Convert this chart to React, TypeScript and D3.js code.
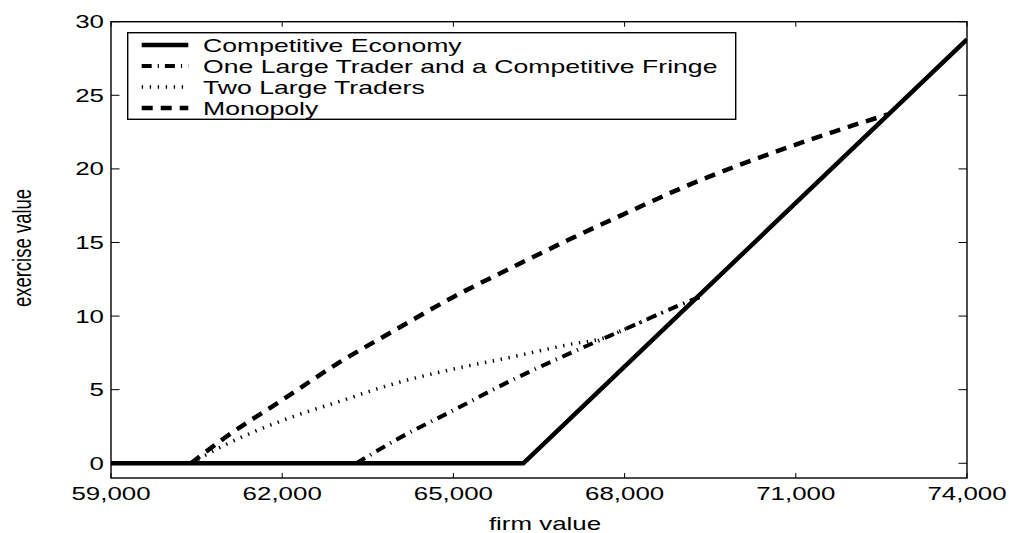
import React, { useEffect, useRef } from "react";
import * as d3 from "d3";

// axis ticks
const xTicks = [59000, 62000, 65000, 68000, 71000, 74000];
const yTicks = [0, 5, 10, 15, 20, 25, 30];

// Competitive Economy
const competitiveFirm = [59000, 66225, 74000];
const competitiveExercise = [0, 0, 28.8];

// One Large Trader and a Competitive Fringe
const oneLargeFirm = [63300, 64000, 65000, 66000, 67000, 68000, 69000, 69321];
const oneLargeExercise = [0, 1.6, 3.6, 5.6, 7.4, 9.1, 10.8, 11.3];

// Two Large Traders
const twoLargeFirm = [60400, 61000, 62000, 63000, 64000, 65000, 66000, 67000, 67700, 68000, 69000, 69321];
const twoLargeExercise = [0, 1.25, 2.9, 4.2, 5.45, 6.4, 7.2, 8.05, 8.6, 9.1, 10.8, 11.3];

// Monopoly
const monopolyFirm = [60400, 61000, 62000, 63000, 64000, 65000, 66000, 67000, 68000, 69000, 70000, 71000, 72000, 72610];
const monopolyExercise = [0, 1.75, 4.3, 6.85, 9.1, 11.3, 13.25, 15.15, 16.95, 18.7, 20.25, 21.65, 22.95, 23.7];

const seriesNames = [
  "Competitive Economy",
  "One Large Trader and a Competitive Fringe",
  "Two Large Traders",
  "Monopoly",
];

const App = () => {
  const svgRef = useRef(null);

  useEffect(() => {
    const svg = d3.select(svgRef.current);
    svg.selectAll("*").remove();

    const left = 111, right = 967, top = 21.7, bottom = 478;
    const font = "'Liberation Sans', Arial, Helvetica, sans-serif";
    const fs = 18.5;
    const stretch = 1.4; // the original figure is widened horizontally

    const x = d3.scaleLinear().domain([59000, 74000]).range([left, right]);
    const y = d3.scaleLinear().domain([-1, 30]).range([bottom, top]);

    const styles = [
      { width: 4.5, dash: null, color: "#000" },
      { width: 4, dash: "10 6 1.2 6", color: "#000" },
      { width: 3.5, dash: "1.4 6.6", color: "#000" },
      { width: 4.5, dash: "11 8", color: "#000" },
    ];

    const series = [
      { fx: competitiveFirm, fy: competitiveExercise, curve: d3.curveLinear },
      { fx: oneLargeFirm, fy: oneLargeExercise, curve: d3.curveMonotoneX },
      { fx: twoLargeFirm, fy: twoLargeExercise, curve: d3.curveMonotoneX },
      { fx: monopolyFirm, fy: monopolyExercise, curve: d3.curveMonotoneX },
    ];

    svg.append("rect").attr("width", 1009).attr("height", 533).attr("fill", "#fff");

    svg.append("defs").append("clipPath").attr("id", "plotClip")
      .append("rect").attr("x", left).attr("y", top)
      .attr("width", right - left).attr("height", bottom - top);

    // lines (competitive last so it sits on top)
    const g = svg.append("g").attr("clip-path", "url(#plotClip)");
    [3, 2, 1, 0].forEach((i) => {
      const s = series[i];
      const pts = s.fx.map((v, k) => [v, s.fy[k]]);
      const line = d3.line().x((d) => x(d[0])).y((d) => y(d[1])).curve(s.curve);
      g.append("path")
        .attr("d", line(pts))
        .attr("fill", "none")
        .attr("stroke", styles[i].color)
        .attr("stroke-width", styles[i].width)
        .attr("stroke-dasharray", styles[i].dash)
        .attr("stroke-linejoin", "round");
    });

    // box
    svg.append("rect")
      .attr("x", left).attr("y", top)
      .attr("width", right - left).attr("height", bottom - top)
      .attr("fill", "none").attr("stroke", "#000").attr("stroke-width", 1.4);

    // ticks, inward on all four sides
    const tk = svg.append("g").attr("stroke", "#000").attr("stroke-width", 1);
    xTicks.forEach((t) => {
      tk.append("line").attr("x1", x(t)).attr("x2", x(t)).attr("y1", bottom).attr("y2", bottom - 5);
      tk.append("line").attr("x1", x(t)).attr("x2", x(t)).attr("y1", top).attr("y2", top + 5);
    });
    yTicks.forEach((t) => {
      tk.append("line").attr("x1", left).attr("x2", left + 8.5).attr("y1", y(t)).attr("y2", y(t));
      tk.append("line").attr("x1", right).attr("x2", right - 8.5).attr("y1", y(t)).attr("y2", y(t));
    });

    const txt = (parent, tx, ty, s, anchor, extra = "") =>
      parent.append("text")
        .attr("transform", `translate(${tx},${ty}) scale(${stretch},1)${extra}`)
        .attr("text-anchor", anchor)
        .attr("font-family", font)
        .attr("font-size", fs)
        .attr("fill", "#000")
        .text(s);

    xTicks.forEach((t) => txt(svg, x(t), 500, d3.format(",")(t), "middle"));
    yTicks.forEach((t) => txt(svg, 104, y(t) + 6.6, String(t), "end"));

    txt(svg, 545, 530, "firm value", "middle");
    txt(svg, 31, 248, "exercise value", "middle", " rotate(-90)");

    // legend
    const lg = svg.append("g");
    lg.append("rect")
      .attr("x", 127.7).attr("y", 32.7).attr("width", 608).attr("height", 86.6)
      .attr("fill", "#fff").attr("stroke", "#000").attr("stroke-width", 1.4);
    const rowY = [45, 66, 87, 108];
    seriesNames.forEach((name, i) => {
      lg.append("line")
        .attr("x1", 141.7).attr("x2", 188.3).attr("y1", rowY[i]).attr("y2", rowY[i])
        .attr("stroke", styles[i].color)
        .attr("stroke-width", styles[i].width)
        .attr("stroke-dasharray", styles[i].dash);
      txt(lg, 203, rowY[i] + 7, name, "start").attr("font-size", 19);
    });
  }, []);

  return (
    <svg
      ref={svgRef}
      width={1009}
      height={533}
      style={{ position: "absolute", left: 0, top: 0, display: "block" }}
    />
  );
};

export default App;
